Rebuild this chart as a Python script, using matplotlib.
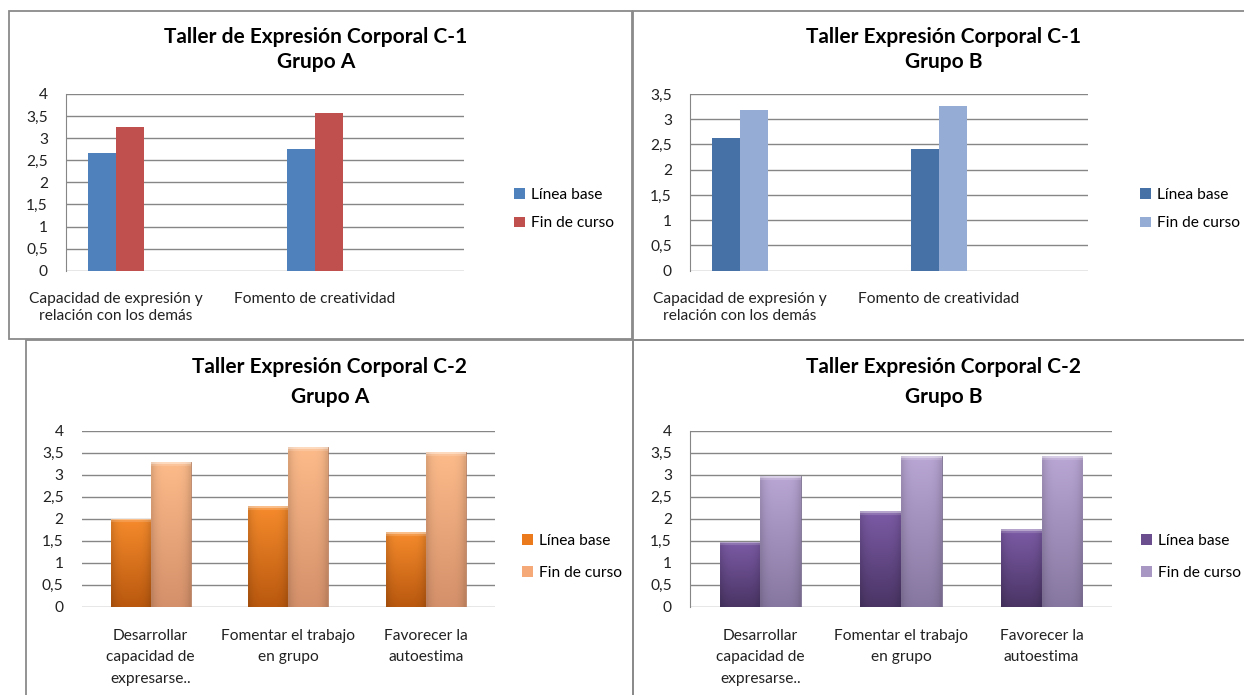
import numpy as np
import matplotlib
matplotlib.use("Agg")
import matplotlib.pyplot as plt
from matplotlib.patches import Rectangle, Patch
from matplotlib.colors import to_rgb

plt.rcParams['font.family'] = ['Lato', 'DejaVu Sans']

# ---------------- datos ----------------
series_names = ["Línea base", "Fin de curso"]

cats_c1 = ["Capacidad de expresión y\nrelación con los demás", "Fomento de creatividad"]
c1a_base = [2.67, 2.75]
c1a_fin = [3.25, 3.57]
c1b_base = [2.63, 2.41]
c1b_fin = [3.18, 3.27]

cats_c2 = ["Desarrollar\ncapacidad de\nexpresarse..", "Fomentar el trabajo\nen grupo", "Favorecer la\nautoestima"]
c2a_base = [2.00, 2.28, 1.69]
c2a_fin = [3.28, 3.63, 3.51]
c2b_base = [1.48, 2.17, 1.77]
c2b_fin = [2.97, 3.42, 3.42]

W, H = 1244, 695
FS = 11.2
fig = plt.figure(figsize=(W / 100, H / 100), dpi=100)


def fbox(x0, y0, x1, y1):
    # caja en pixeles (desde arriba) -> fracciones de figura
    return [x0 / W, 1 - y1 / H, (x1 - x0) / W, (y1 - y0) / H]


def frame(x0, y0, x1, y1):
    fig.add_artist(Rectangle((x0 / W, 1 - y1 / H), (x1 - x0) / W, (y1 - y0) / H,
                             transform=fig.transFigure, fill=False,
                             edgecolor='#8a8a8a', lw=1.3))


def comma(v):
    return ('%g' % v).replace('.', ',')


def style_axes(ax, ymax, step, left_line=True, xpad=13):
    ticks = np.arange(0, ymax + 1e-9, step)
    ax.set_ylim(0, ymax)
    ax.set_yticks(ticks)
    ax.set_yticklabels([comma(t) for t in ticks])
    ax.yaxis.grid(True, color='#868686', lw=1.0)
    ax.set_axisbelow(True)
    for s in ['top', 'right', 'bottom']:
        ax.spines[s].set_visible(False)
    ax.spines['left'].set_visible(left_line)
    ax.spines['left'].set_color('#868686')
    ax.tick_params(length=0, labelsize=FS, colors='#222222')
    ax.tick_params(axis='y', pad=13)
    ax.tick_params(axis='x', pad=xpad)


def gradient_bars(ax, bars, top, bottom, px_per_unit=44):
    t = np.array(to_rgb(top))
    b = np.array(to_rgb(bottom))
    for p in bars:
        x0, y0 = p.get_x(), p.get_y()
        w, h = p.get_width(), p.get_height()
        if h <= 0:
            continue
        n = max(int(h * px_per_unit), 8)
        vv = np.linspace(0, 1, n)
        col = t[None, :] * (1 - vv[:, None]) + b[None, :] * vv[:, None]
        img = np.repeat(col[:, None, :], 16, axis=1)
        # bordes laterales algo mas oscuros
        hx = np.linspace(-1, 1, 16)
        shade = 1 - 0.12 * hx ** 4
        img = img * shade[None, :, None]
        # bisel superior fino
        img[:2] = np.clip(img[:2] * 0.55 + 0.45, 0, 1)
        img[2:4] = np.clip(img[2:4] * 0.85 + 0.15, 0, 1)
        im = ax.imshow(img, extent=[x0, x0 + w, y0, y0 + h], aspect='auto',
                       origin='upper', zorder=3, interpolation='bilinear')
        im.set_clip_path(p)
        p.set_facecolor('none')
        p.set_edgecolor(tuple(b * 0.85))
        p.set_linewidth(0.6)


def legend(ax, xpx, ypx, colors, spacing):
    handles = [Patch(facecolor=c, edgecolor='none') for c in colors]
    ax.legend(handles, series_names, loc='center left',
              bbox_to_anchor=(xpx / W, 1 - ypx / H),
              bbox_transform=fig.transFigure, frameon=False, fontsize=FS,
              handlelength=0.7, handleheight=0.7, handletextpad=0.4,
              labelspacing=spacing, borderpad=0, borderaxespad=0)


def titles(xc, y1, y2, line1, line2):
    fig.text(xc / W, 1 - y1 / H, line1, ha='center', va='center',
             fontsize=15, fontweight='bold')
    fig.text(xc / W, 1 - y2 / H, line2, ha='center', va='center',
             fontsize=15, fontweight='bold')


def c1_panel(rect, base, fin, colors, ymax):
    ax = fig.add_axes(rect)
    x = np.arange(len(cats_c1)) * 2
    w = 0.28
    ax.bar(x - w / 2, base, w, color=colors[0], zorder=3)
    ax.bar(x + w / 2, fin, w, color=colors[1], zorder=3)
    style_axes(ax, ymax, 0.5, xpad=15)
    ax.set_xlim(-0.5, len(cats_c1) * 2 - 0.5)
    ax.set_xticks(x)
    ax.set_xticklabels(cats_c1, linespacing=1.35)
    return ax


def c2_panel(rect, base, fin, cols, left_line):
    ax = fig.add_axes(rect)
    x = np.arange(len(cats_c2))
    w = 0.29
    b1 = ax.bar(x - w / 2, base, w, color=cols[0][1], zorder=3)
    b2 = ax.bar(x + w / 2, fin, w, color=cols[1][1], zorder=3)
    style_axes(ax, 4, 0.5, left_line, xpad=16)
    gradient_bars(ax, b1, cols[0][0], cols[0][2])
    gradient_bars(ax, b2, cols[1][0], cols[1][2])
    ax.set_xlim(-0.5, len(cats_c2) - 0.5)
    ax.set_ylim(0, 4)
    ax.set_xticks(x)
    ax.set_xticklabels(cats_c2, linespacing=1.68)
    return ax


# marcos
frame(9, 11, 632, 339)
frame(633, 11, 1250, 340)
frame(26, 340, 633, 700)
frame(633, 340, 1250, 700)

# C-1 Grupo A
col_1a = ['#4F81BD', '#C0504D']
ax1 = c1_panel(fbox(66, 94, 464, 270.7), c1a_base, c1a_fin, col_1a, 4)
titles(316, 37, 62, "Taller de Expresión Corporal C-1", "Grupo A")
legend(ax1, 514, 209, col_1a, 0.95)

# C-1 Grupo B
col_1b = ['#4571A6', '#95ADD5']
ax2 = c1_panel(fbox(690, 94, 1088, 270.7), c1b_base, c1b_fin, col_1b, 3.5)
titles(944, 37, 62, "Taller Expresión Corporal C-1", "Grupo B")
legend(ax2, 1140, 209, col_1b, 0.95)

# C-2 Grupo A
orange = [('#F68B2C', '#EB7A1C', '#B9580E'), ('#FDBB8A', '#F5A878', '#D4906A')]
ax3 = c2_panel(fbox(81.7, 430.7, 495, 606.7), c2a_base, c2a_fin, orange, False)
titles(330, 367, 397, "Taller Expresión Corporal C-2", "Grupo A")
legend(ax3, 522, 557, [orange[0][1], orange[1][1]], 1.15)

# C-2 Grupo B
purple = [('#7C5BA6', '#6A4E8E', '#4A3565'), ('#B9A6D4', '#A897C2', '#8677A0')]
ax4 = c2_panel(fbox(690, 430.7, 1112, 606.7), c2b_base, c2b_fin, purple, True)
titles(944, 367, 397, "Taller Expresión Corporal C-2", "Grupo B")
legend(ax4, 1141, 557, [purple[0][1], purple[1][1]], 1.15)

fig.savefig("out.png", dpi=100, facecolor='white')
